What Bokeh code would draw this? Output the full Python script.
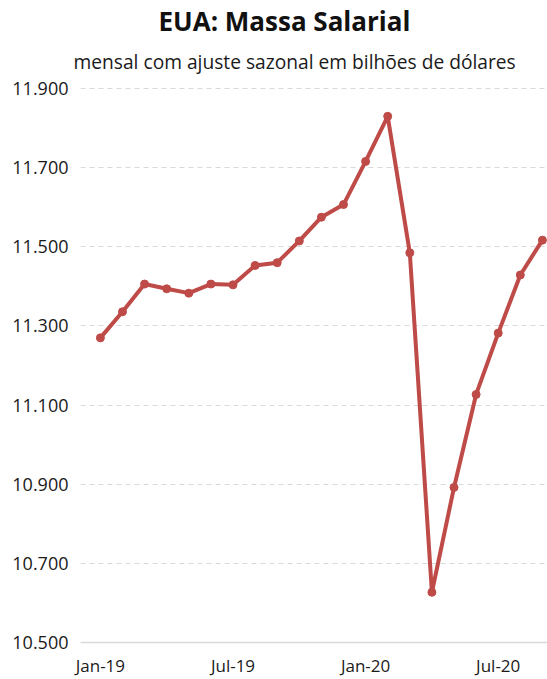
from bokeh.plotting import figure
from bokeh.models import FixedTicker, Title, Range1d
from bokeh.embed import file_html
from bokeh.resources import INLINE

months = ["Jan-19", "Feb-19", "Mar-19", "Apr-19", "May-19", "Jun-19", "Jul-19", "Aug-19",
          "Sep-19", "Oct-19", "Nov-19", "Dec-19", "Jan-20", "Feb-20", "Mar-20", "Apr-20",
          "May-20", "Jun-20", "Jul-20", "Aug-20", "Sep-20"]
values = [11270, 11336, 11406, 11394, 11383, 11406, 11404, 11453, 11460, 11515, 11575,
          11607, 11716, 11830, 11485, 10627, 10892, 11127, 11282, 11429, 11517]
x_tick_months = ["Jan-19", "Jul-19", "Jan-20", "Jul-20"]
y_ticks = [10500, 10700, 10900, 11100, 11300, 11500, 11700, 11900]
y_tick_labels = ["10.500", "10.700", "10.900", "11.100", "11.300", "11.500", "11.700", "11.900"]

xs = list(range(len(months)))
color = "#BE4B48"
font = "Open Sans"

p = figure(width=547, height=679, output_backend="svg", toolbar_location=None,
           x_range=Range1d(-0.9, 20.23), y_range=Range1d(10500, 11918),
           min_border_left=80, min_border_right=0, min_border_bottom=36, min_border_top=0)
p.outline_line_color = None
p.background_fill_color = "white"
p.border_fill_color = "white"

p.line(xs, values, line_color=color, line_width=4)
p.scatter(xs, values, size=8, fill_color=color, line_color=color)

# axes
x_ticks = [months.index(m) for m in x_tick_months]
p.xaxis.ticker = FixedTicker(ticks=x_ticks)
p.xaxis.major_label_overrides = {t: m for t, m in zip(x_ticks, x_tick_months)}
p.xaxis.major_tick_line_color = None
p.xaxis.major_tick_out = 0
p.xaxis.minor_tick_line_color = None
p.xaxis.minor_tick_out = 0
p.xaxis.axis_line_color = "#D9D9D9"
p.xaxis.axis_line_width = 1.5
p.xaxis.major_label_standoff = 11
p.xaxis.major_label_text_font = font
p.xaxis.major_label_text_font_size = "17px"
p.xaxis.major_label_text_line_height = 0.9
p.xaxis.major_label_text_color = "#1a1a1a"

p.yaxis.ticker = FixedTicker(ticks=y_ticks)
p.yaxis.major_label_overrides = {t: l for t, l in zip(y_ticks, y_tick_labels)}
p.yaxis.major_tick_line_color = None
p.yaxis.major_tick_out = 0
p.yaxis.minor_tick_line_color = None
p.yaxis.minor_tick_out = 0
p.yaxis.axis_line_color = None
p.yaxis.major_label_standoff = 12
p.yaxis.major_label_text_font = font
p.yaxis.major_label_text_font_size = "18px"
p.yaxis.major_label_text_color = "#1a1a1a"

p.xgrid.grid_line_color = None
p.ygrid.grid_line_color = "#D9D9D9"
p.ygrid.grid_line_dash = "5 4"
p.ygrid.grid_line_width = 1

sub = Title(text="mensal com ajuste sazonal em bilhões de dólares", align="left", offset=-7,
            text_font=font, text_font_size="19.2px", text_font_style="normal",
            text_color="#1a1a1a", standoff=14)
p.add_layout(sub, "above")
ttl = Title(text="EUA: Massa Salarial", align="left", offset=78,
            text_font=font, text_font_size="26px", text_font_style="bold",
            text_color="#111111", standoff=0)
p.add_layout(ttl, "above")

open("out.html", "w").write(file_html(p, INLINE))
